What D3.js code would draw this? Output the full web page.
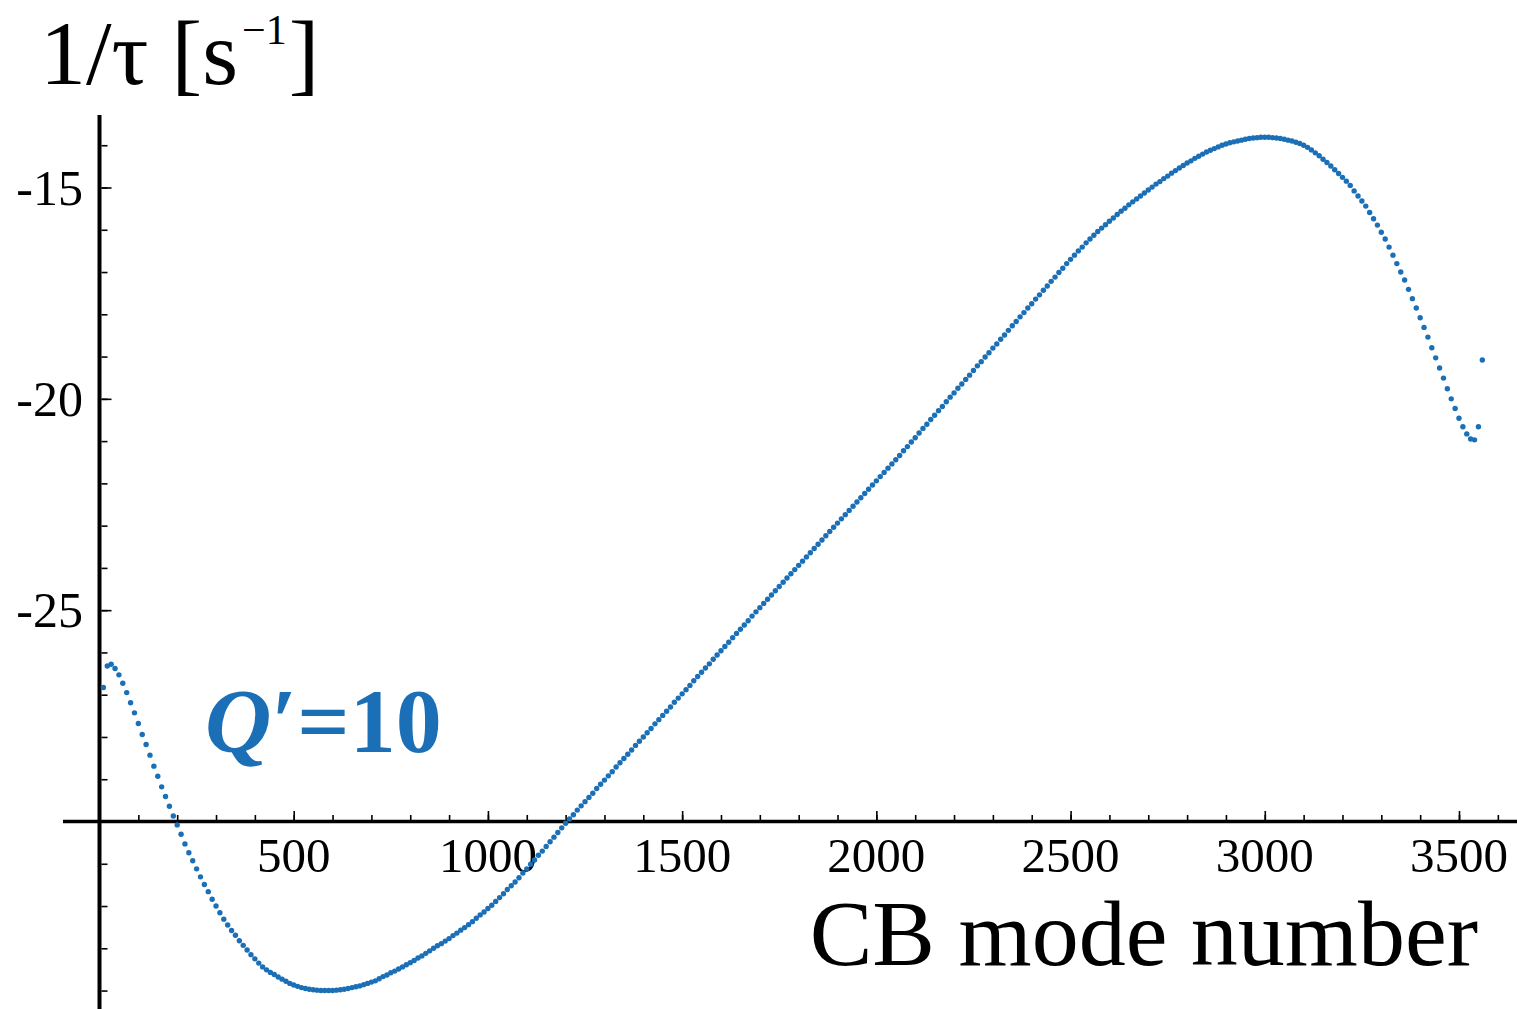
<!DOCTYPE html>
<html>
<head>
<meta charset="utf-8">
<script src="https://cdn.jsdelivr.net/npm/d3@7"></script>
<style>
  body { margin: 0; background: #fff; }
  svg { display: block; }
</style>
</head>
<body>
<div class="chart"></div>
<script>
// Chart dimension
var svgWidth = 1517;
var svgHeight = 1009;

// CB mode numbers (every 10th mode is plotted)
var modeNumbers = d3.range(10, 3561, 10);

// 1/tau [s^-1] for Q' = 10, one row per 100 modes
var growthRate = [
  -26.83, -26.32, -26.28, -26.38, -26.53, -26.73, -26.95, -27.19, -27.43, -27.68,
  -27.94, -28.18, -28.43, -28.69, -28.93, -29.18, -29.41, -29.64, -29.87, -30.08,
  -30.30, -30.53, -30.74, -30.93, -31.12, -31.31, -31.49, -31.66, -31.84, -32.00,
  -32.16, -32.31, -32.45, -32.58, -32.69, -32.82, -32.93, -33.04, -33.15, -33.25,
  -33.35, -33.44, -33.51, -33.57, -33.62, -33.68, -33.73, -33.78, -33.83, -33.87,
  -33.90, -33.93, -33.95, -33.97, -33.98, -33.99, -34.00, -34.00, -34.00, -34.00,
  -33.99, -33.98, -33.97, -33.95, -33.93, -33.91, -33.89, -33.86, -33.83, -33.80,
  -33.77, -33.72, -33.67, -33.63, -33.58, -33.54, -33.49, -33.44, -33.39, -33.34,
  -33.29, -33.23, -33.18, -33.12, -33.06, -33.00, -32.94, -32.89, -32.83, -32.77,
  -32.70, -32.64, -32.57, -32.51, -32.44, -32.37, -32.29, -32.21, -32.14, -32.06,
  -31.98, -31.89, -31.80, -31.71, -31.61, -31.52, -31.43, -31.33, -31.22, -31.12,
  -31.01, -30.91, -30.80, -30.70, -30.59, -30.48, -30.37, -30.26, -30.15, -30.04,
  -29.94, -29.84, -29.73, -29.63, -29.53, -29.43, -29.33, -29.22, -29.12, -29.02,
  -28.92, -28.82, -28.71, -28.61, -28.51, -28.41, -28.31, -28.20, -28.10, -28.00,
  -27.90, -27.80, -27.69, -27.59, -27.49, -27.39, -27.29, -27.18, -27.08, -26.98,
  -26.88, -26.78, -26.67, -26.57, -26.47, -26.37, -26.27, -26.16, -26.06, -25.96,
  -25.86, -25.76, -25.65, -25.55, -25.45, -25.35, -25.25, -25.14, -25.04, -24.94,
  -24.84, -24.74, -24.64, -24.54, -24.44, -24.34, -24.24, -24.14, -24.04, -23.94,
  -23.84, -23.74, -23.64, -23.54, -23.44, -23.34, -23.24, -23.14, -23.04, -22.94,
  -22.84, -22.74, -22.64, -22.54, -22.44, -22.34, -22.24, -22.14, -22.04, -21.94,
  -21.84, -21.74, -21.64, -21.54, -21.44, -21.34, -21.23, -21.13, -21.02, -20.92,
  -20.81, -20.70, -20.60, -20.49, -20.39, -20.28, -20.18, -20.07, -19.96, -19.86,
  -19.75, -19.65, -19.54, -19.44, -19.33, -19.22, -19.12, -19.01, -18.91, -18.80,
  -18.70, -18.59, -18.49, -18.38, -18.27, -18.17, -18.06, -17.96, -17.85, -17.75,
  -17.64, -17.54, -17.43, -17.33, -17.22, -17.12, -17.01, -16.91, -16.80, -16.70,
  -16.60, -16.50, -16.41, -16.31, -16.22, -16.13, -16.04, -15.96, -15.88, -15.80,
  -15.72, -15.64, -15.56, -15.49, -15.41, -15.34, -15.27, -15.20, -15.13, -15.06,
  -14.99, -14.92, -14.86, -14.79, -14.73, -14.66, -14.60, -14.54, -14.48, -14.42,
  -14.37, -14.31, -14.26, -14.21, -14.16, -14.12, -14.08, -14.04, -14.00, -13.97,
  -13.94, -13.92, -13.90, -13.88, -13.86, -13.84, -13.83, -13.82, -13.81, -13.81,
  -13.81, -13.82, -13.83, -13.84, -13.86, -13.88, -13.90, -13.93, -13.96, -14.00,
  -14.05, -14.11, -14.18, -14.25, -14.33, -14.41, -14.49, -14.58, -14.67, -14.76,
  -14.85, -14.95, -15.08, -15.20, -15.32, -15.44, -15.59, -15.74, -15.89, -16.06,
  -16.22, -16.41, -16.60, -16.80, -17.00, -17.19, -17.41, -17.63, -17.85, -18.08,
  -18.31, -18.54, -18.79, -19.03, -19.27, -19.51, -19.76, -20.00, -20.23, -20.46,
  -20.66, -20.83, -20.95, -20.97, -20.66, -19.08
];

// Tick labels
var xTickLabels = [500, 1000, 1500, 2000, 2500, 3000, 3500];
var yTickLabels = [-15, -20, -25];
var xMinorTicks = d3.range(100, 3601, 100);
var yMinorTicks = d3.range(-14, -34.5, -1);

var myData = modeNumbers.map(function(m, i) {
  return { mode: m, rate: growthRate[i] };
});

var blue = "#1b6fb6";
var serif = "'Liberation Serif', 'Times New Roman', serif";

var svg = d3.select(".chart")
  .append("svg")
  .attr("width", svgWidth)
  .attr("height", svgHeight);

var xLinearScale = d3.scaleLinear().domain([0, 3500]).range([99.5, 1459]);
var yLinearScale = d3.scaleLinear().domain([-15, -30]).range([187.5, 821.5]);

var x0 = xLinearScale(0);
var yAxisAt = yLinearScale(-30);

// Axis lines
svg.append("line")
  .attr("x1", x0).attr("x2", x0)
  .attr("y1", 115).attr("y2", svgHeight)
  .attr("stroke", "#000").attr("stroke-width", 4);

svg.append("line")
  .attr("x1", 63).attr("x2", svgWidth)
  .attr("y1", yAxisAt).attr("y2", yAxisAt)
  .attr("stroke", "#000").attr("stroke-width", 3.5);

// Ticks (minor, then major)
function drawTicks(axis, pos) {
  var g = svg.append("g").attr("transform", pos).call(axis);
  g.select(".domain").remove();
  g.selectAll(".tick line").attr("stroke", "#000").attr("stroke-width", 1.6);
  g.selectAll(".tick text").remove();
}

drawTicks(d3.axisRight(yLinearScale).tickValues(yMinorTicks).tickSize(6),
  "translate(" + (x0 + 2) + ",0)");
drawTicks(d3.axisRight(yLinearScale).tickValues(yTickLabels).tickSize(10),
  "translate(" + (x0 + 2) + ",0)");
drawTicks(d3.axisTop(xLinearScale).tickValues(xMinorTicks).tickSize(5),
  "translate(0," + (yAxisAt - 1.5) + ")");
drawTicks(d3.axisTop(xLinearScale).tickValues(xTickLabels).tickSize(9),
  "translate(0," + (yAxisAt - 1.5) + ")");

// Tick labels
svg.selectAll(".xlab")
  .data(xTickLabels)
  .enter().append("text")
  .attr("class", "xlab")
  .attr("x", function(d) { return xLinearScale(d); })
  .attr("y", 872)
  .attr("text-anchor", "middle")
  .attr("font-family", serif)
  .attr("font-size", "49px")
  .text(function(d) { return d; });

svg.selectAll(".ylab")
  .data(yTickLabels)
  .enter().append("text")
  .attr("class", "ylab")
  .attr("x", 83)
  .attr("y", function(d) { return yLinearScale(d) + 17; })
  .attr("text-anchor", "end")
  .attr("font-family", serif)
  .attr("font-size", "50px")
  .text(function(d) { return "-" + Math.abs(d); });

// Scatter points
svg.append("g").selectAll("circle")
  .data(myData)
  .enter().append("circle")
  .attr("cx", function(d) { return xLinearScale(d.mode); })
  .attr("cy", function(d) { return yLinearScale(d.rate); })
  .attr("r", 2.7)
  .attr("fill", blue);

// Axis titles
var title = svg.append("text")
  .attr("x", 40)
  .attr("y", 84)
  .attr("font-family", serif)
  .attr("font-size", "92px");
title.append("tspan").text("1/\u03c4 [s");
title.append("tspan").attr("font-size", "42px").attr("dy", -40).attr("dx", 4).text("\u22121");
title.append("tspan").attr("dy", 40).attr("dx", 2).text("]");

svg.append("text")
  .attr("x", 1478)
  .attr("y", 965)
  .attr("text-anchor", "end")
  .attr("font-family", serif)
  .attr("font-size", "94px")
  .text("CB mode number");

// Curve label
var qLabel = svg.append("text")
  .attr("x", 205)
  .attr("y", 752)
  .attr("font-family", serif)
  .attr("font-weight", "bold")
  .attr("font-size", "92px")
  .attr("fill", blue);
qLabel.append("tspan").attr("font-style", "italic").text("Q");
qLabel.append("tspan").text("\u2032=10");
</script>
</body>
</html>
